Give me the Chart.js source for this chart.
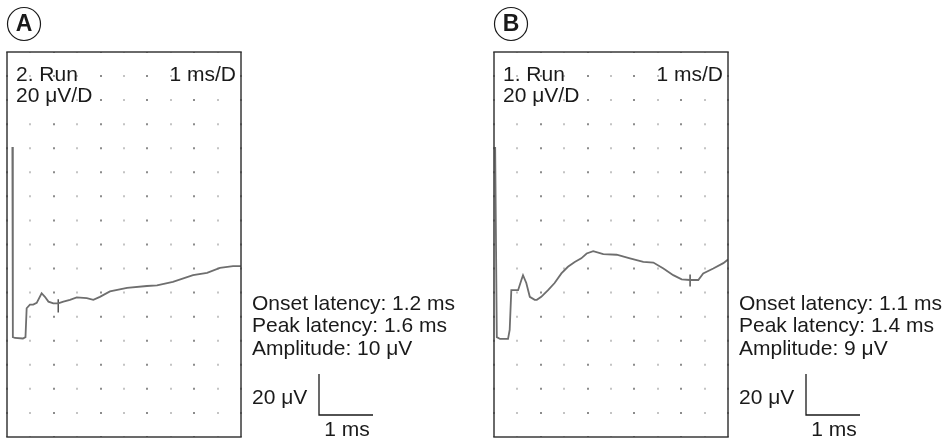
<!DOCTYPE html>
<html>
<head>
<meta charset="utf-8">
<script src="https://cdn.jsdelivr.net/npm/chart.js@4.4.1/dist/chart.umd.min.js"></script>
<style>
  body { margin: 0; background: #fff; }
  .panel { position: absolute; top: 0; width: 474px; height: 440px; }
  #panelA { left: 0; }
  #panelB { left: 474px; }
</style>
</head>
<body>
<div class="panel" id="panelA"><canvas id="chartA" width="474" height="440"></canvas></div>
<div class="panel" id="panelB"><canvas id="chartB" width="474" height="440"></canvas></div>
<script>
// time (ms) and amplitude (µV); y runs 0..320 µV over 16 divisions
const tA = [0.23, 0.25, 0.34, 0.68, 0.79, 0.84, 0.98, 1.12, 1.27, 1.48, 1.62, 1.77, 1.98, 2.19, 2.41, 2.69, 2.98, 3.41, 3.69, 3.97, 4.40, 5.13, 5.98, 6.41, 7.09, 7.95, 8.55, 9.10, 9.66, 10.0];
const vA = [241, 83, 82.3, 81.9, 83, 107, 110, 110, 111.5, 119.5, 116.5, 112.5, 111, 111, 112.5, 114, 116, 115.5, 114, 116.5, 121, 124, 125.5, 126, 129, 134.5, 136.5, 140.5, 142, 142];

const tB = [0.05, 0.12, 0.26, 0.60, 0.67, 0.74, 0.97, 1.03, 1.17, 1.24, 1.38, 1.53, 1.74, 1.83, 2.02, 2.31, 2.59, 2.88, 3.16, 3.45, 3.73, 3.96, 4.24, 4.67, 5.24, 5.81, 6.38, 6.81, 7.24, 7.66, 8.02, 8.38, 8.73, 8.94, 9.37, 9.80, 10.0];
const vB = [241, 83, 81.5, 81.5, 89, 122, 122, 122, 130.5, 134.5, 128, 116.5, 114, 114, 116.5, 122, 128, 136, 141.5, 145.5, 148.5, 152.5, 154.5, 152, 151.5, 148.5, 145.5, 145, 140, 134.5, 131, 130.5, 130.5, 136, 140, 144.5, 147.5];

// cursor marks on the traces
const markA = { t: 2.19, top: 114.5, bottom: 103.5 };
const markB = { t: 8.38, top: 135, bottom: 125 };

const panelLetters = ["A", "B"];
const runLabels = ["2. Run", "1. Run"];
const timeDiv = "1 ms/D";
const voltDiv = "20 μV/D";
const notesA = ["Onset latency: 1.2 ms", "Peak latency: 1.6 ms", "Amplitude: 10 μV"];
const notesB = ["Onset latency: 1.1 ms", "Peak latency: 1.4 ms", "Amplitude: 9 μV"];
const barV = "20 μV";
const barT = "1 ms";

const FONT = '"Liberation Sans", Arial, sans-serif';

function pts(ts, vs) {
  return ts.map((t, i) => ({ x: t, y: vs[i] }));
}

// frame, labels, scale bar and circled letter
const decor = {
  id: "decor",
  afterDraw(chart, args, o) {
    const ctx = chart.ctx;
    const a = chart.chartArea;
    ctx.save();
    ctx.strokeStyle = "#3a3a3a";
    ctx.lineWidth = 1.5;
    ctx.strokeRect(a.left, a.top, a.right - a.left, a.bottom - a.top);

    ctx.fillStyle = "#1a1a1a";
    ctx.font = "21px " + FONT;
    ctx.textBaseline = "alphabetic";
    ctx.textAlign = "left";
    ctx.fillText(o.run, a.left + 9, 81);
    ctx.fillText(voltDiv, a.left + 9, 102);
    ctx.textAlign = "right";
    ctx.fillText(timeDiv, a.right - 5, 81);

    ctx.textAlign = "left";
    const nx = a.right + 11;
    ctx.fillText(o.notes[0], nx, 310);
    ctx.fillText(o.notes[1], nx, 332);
    ctx.fillText(o.notes[2], nx, 355);
    ctx.fillText(barV, nx, 404);

    const bx = a.right + 78;
    ctx.strokeStyle = "#1a1a1a";
    ctx.lineWidth = 1.3;
    ctx.beginPath();
    ctx.moveTo(bx, 374);
    ctx.lineTo(bx, 415);
    ctx.lineTo(bx + 54, 415);
    ctx.stroke();
    ctx.textAlign = "center";
    ctx.fillText(barT, bx + 28, 436);

    ctx.lineWidth = 1.2;
    ctx.beginPath();
    ctx.arc(a.left + 17, 24, 16.5, 0, Math.PI * 2);
    ctx.stroke();
    ctx.font = "bold 23px " + FONT;
    ctx.textBaseline = "middle";
    ctx.fillText(o.letter, a.left + 17, 25);
    ctx.restore();
  }
};

function makeChart(id, ts, vs, mark, opts, pad) {
  new Chart(document.getElementById(id), {
    type: "scatter",
    data: {
      datasets: [
        {
          data: pts(ts, vs),
          showLine: true,
          borderColor: "#6e6e6e",
          borderWidth: 1.8,
          pointRadius: 0,
          tension: 0
        },
        {
          data: [{ x: mark.t, y: mark.top }, { x: mark.t, y: mark.bottom }],
          showLine: true,
          borderColor: "#555",
          borderWidth: 1.5,
          pointRadius: 0
        }
      ]
    },
    options: {
      responsive: false,
      animation: false,
      layout: { padding: pad },
      plugins: {
        legend: { display: false },
        tooltip: { enabled: false },
        decor: opts
      },
      scales: {
        x: {
          type: "linear",
          min: 0,
          max: 10,
          ticks: { display: false, stepSize: 1 },
          grid: {
            drawTicks: false,
            lineWidth: 2,
            color: (c) => (c.index % 2 === 0 ? "#8c8c8c" : "#c4c4c4")
          },
          border: { display: false, dash: [2, 22.06], dashOffset: 1 }
        },
        y: { display: false, min: 0, max: 320 }
      }
    },
    plugins: [decor]
  });
}

makeChart("chartA", tA, vA, markA,
  { run: runLabels[0], notes: notesA, letter: panelLetters[0] },
  { left: 7, top: 52, right: 233, bottom: 3 });
makeChart("chartB", tB, vB, markB,
  { run: runLabels[1], notes: notesB, letter: panelLetters[1] },
  { left: 20, top: 52, right: 220, bottom: 3 });
</script>
</body>
</html>
